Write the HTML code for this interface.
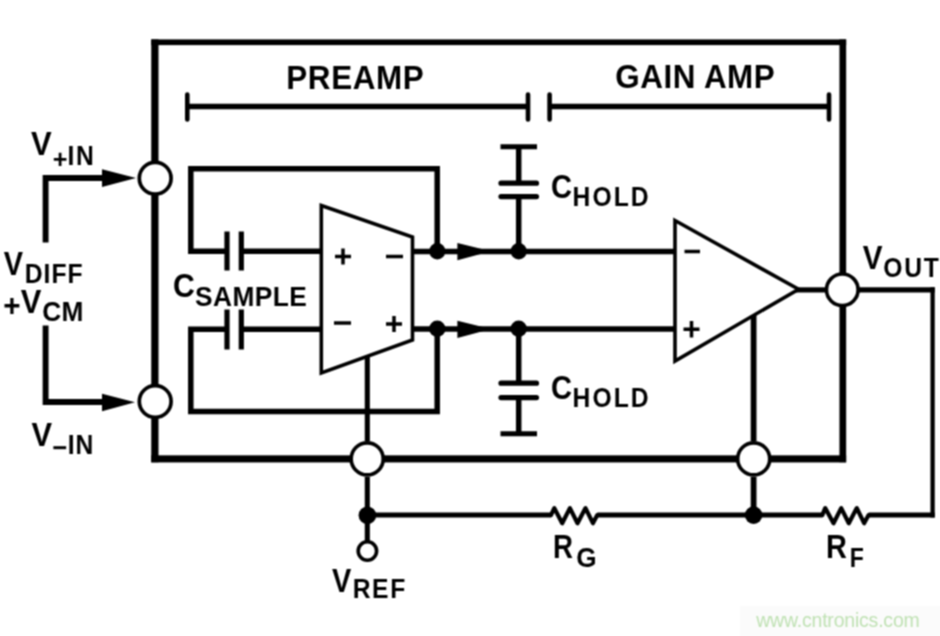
<!DOCTYPE html>
<html><head><meta charset="utf-8">
<style>
html,body{margin:0;padding:0;background:#fff;}
body{width:940px;height:636px;overflow:hidden;position:relative;}
svg{position:absolute;left:0;top:0;display:block;}
text{font-family:"Liberation Sans",sans-serif;font-weight:bold;fill:#000;}
.wm{font-weight:normal;fill:#bfe1b3;}
</style></head>
<body>
<svg width="940" height="636" viewBox="0 0 940 636">
<defs><filter id="bl" color-interpolation-filters="sRGB" filterUnits="userSpaceOnUse" x="0" y="0" width="940" height="636"><feConvolveMatrix order="3" kernelMatrix="1 2 1 2 4 2 1 2 1" divisor="16" edgeMode="duplicate"/></filter></defs>
<g filter="url(#bl)">
<rect x="0" y="0" width="940" height="636" fill="#fff"/>
<rect x="740" y="606" width="200" height="30" fill="#fbfbfb"/>
<g fill="#000">
  <rect x="151.25" y="39.4" width="7.25" height="422.85"/>
  <rect x="151.25" y="39.4" width="694.9" height="5.7"/>
  <rect x="839.44" y="39.4" width="6.7" height="422.85"/>
  <rect x="151.25" y="455.34" width="694.9" height="7.1"/>
</g>
<g fill="none" stroke="#000" stroke-linecap="butt" stroke-linejoin="miter">
  <!-- brackets -->
  <path d="M187.3 106.6 H528 M549.6 106.6 H829" stroke-width="5.5"/>
  <path d="M187.3 94.5 V119.5 M528 94.5 V119.5 M549.6 94.5 V119.5 M829 94.5 V119.5" stroke-width="4.6" stroke-linecap="round"/>

  <!-- inputs -->
  <path d="M45.6 242.5 V178 H104" stroke-width="5.9"/>
  <path d="M45.6 325.5 V402 H104" stroke-width="5.9"/>

  <!-- preamp loops -->
  <path d="M227 251.2 H190.8 V168.7 H437.2 V251.2" stroke-width="5.5"/>
  <path d="M227 329.2 H190.8 V411.4 H437.2 V329" stroke-width="5.5"/>
  <path d="M241.3 251.2 H321.5" stroke-width="5.5"/>
  <path d="M241.3 329.2 H321.5" stroke-width="5.5"/>
  <path d="M227 231.5 V270.5 M241.3 231.5 V270.5 M227 309.5 V349.5 M241.3 309.5 V349.5" stroke-width="5.2"/>

  <!-- preamp -->
  <path d="M321.3 205.5 L412.5 237 V340 L321.3 373 Z" stroke-width="3.6"/>
  <path d="M412.5 251.5 H675" stroke-width="5.5"/>
  <path d="M412.5 329 H675" stroke-width="5.5"/>

  <!-- CHOLD -->
  <path d="M518.7 146.8 V183 M518.7 196.6 V251.2" stroke-width="5.5"/>
  <path d="M500.5 146.8 H537" stroke-width="5"/>
  <path d="M501 183.2 H536.5 M501 196.6 H536.5" stroke-width="5.2" stroke-linecap="round"/>
  <path d="M518.7 329 V383.2 M518.7 397.6 V433.8" stroke-width="5.5"/>
  <path d="M500.5 433.8 H537" stroke-width="5"/>
  <path d="M501 383.2 H536.5 M501 397.6 H536.5" stroke-width="5.2" stroke-linecap="round"/>

  <!-- gain amp -->
  <path d="M675 220.5 L798.6 289.3 L675 361 Z" stroke-width="3.6"/>
  <path d="M796 289.9 H825" stroke-width="5.2"/>
  <path d="M859 289.9 H934.75" stroke-width="5.4"/>
  <path d="M932.6 287.2 V517.5" stroke-width="4.3"/>
  <path d="M934.75 515.1 H868.6" stroke-width="5"/>
  <path d="M868.6 515.1 L864.1 523.2 L856.8 508.1 L848.8 523.2 L841.2 508.1 L833.5 523.2 L825.2 508.1 L822.3 515.1" stroke-width="4.2" stroke-linejoin="round" stroke-linecap="round"/>
  <path d="M822.3 515.1 H597.3" stroke-width="5"/>
  <path d="M597.3 515.1 L592.9 523.2 L585.5 508.1 L577.5 523.2 L569.9 508.1 L562.2 523.2 L554.3 508.1 L551 515.1" stroke-width="4.2" stroke-linejoin="round" stroke-linecap="round"/>
  <path d="M551 515.1 H367.4" stroke-width="5"/>
  <path d="M753.6 315 V441" stroke-width="5.8"/>
  <path d="M753.6 477 V515" stroke-width="5.8"/>
  <path d="M367.3 356 V441" stroke-width="5.1"/>
  <path d="M367.3 477 V541.5" stroke-width="5.1"/>

  <!-- signs -->
  <path d="M335 256.5 H351 M343 248.5 V264.5" stroke-width="3.5"/>
  <path d="M386 256.5 H403" stroke-width="3.5"/>
  <path d="M334 323 H351" stroke-width="3.5"/>
  <path d="M386 324 H402 M394 316 V332" stroke-width="3.5"/>
  <path d="M684.5 251.5 H700" stroke-width="3.5"/>
  <path d="M683.5 329.2 H699.5 M691.5 321 V337.5" stroke-width="3.5"/>

  <!-- circles -->
  <circle cx="155.2" cy="178.2" r="15.9" stroke-width="3.7" fill="#fff"/>
  <circle cx="155.2" cy="401.5" r="15.9" stroke-width="3.7" fill="#fff"/>
  <circle cx="367.2" cy="458.9" r="16" stroke-width="3.6" fill="#fff"/>
  <circle cx="753.7" cy="458.9" r="16" stroke-width="3.6" fill="#fff"/>
  <circle cx="842.3" cy="289.8" r="15.8" stroke-width="3.6" fill="#fff"/>
  <circle cx="367.4" cy="551" r="9.2" stroke-width="3.6" fill="#fff"/>
</g>
<g fill="#000">
  <!-- arrows -->
  <path d="M102 169.3 L136 178 L102 186.9 Z"/>
  <path d="M102 393.8 L135 402.3 L102 411.2 Z"/>
  <path d="M457.4 242.9 L491 251.2 L457.4 260.3 Z"/>
  <path d="M457.4 320.7 L491 329 L457.4 338.1 Z"/>
  <!-- dots -->
  <circle cx="437.3" cy="251.2" r="8.2"/>
  <circle cx="437.3" cy="328.8" r="8.2"/>
  <circle cx="518.7" cy="251.2" r="8.2"/>
  <circle cx="518.7" cy="328.8" r="8.2"/>
  <circle cx="367.4" cy="515.2" r="8.8"/>
  <circle cx="753.6" cy="515.1" r="8.8"/>
</g>
<text id="vin_v" transform="translate(31.02 155.38) scale(0.9573 1)" font-size="32.40">V</text>
<text id="vin_plus" transform="translate(52.66 167.58) scale(0.9766 1)" font-size="25.79">+</text>
<text id="vin_in" transform="translate(67.48 165.00) scale(0.9000 1)" font-size="27.40" textLength="29.18" lengthAdjust="spacing">IN</text>
<text id="vdiff_v" transform="translate(3.83 275.00) scale(0.8922 1)" font-size="32.40">V</text>
<text id="diff" transform="translate(24.74 282.86) scale(0.9000 1)" font-size="27.40" textLength="64.24" lengthAdjust="spacing">DIFF</text>
<text id="vcm_plus" transform="translate(3.33 316.01) scale(0.9300 1)" font-size="31.92">+</text>
<text id="vcm_v" transform="translate(20.76 312.88) scale(0.9547 1)" font-size="32.40">V</text>
<text id="cm" transform="translate(42.17 320.70) scale(0.9600 1)" font-size="27.40" textLength="42.96" lengthAdjust="spacing">CM</text>
<text id="vmin_v" transform="translate(31.42 446.38) scale(0.9517 1)" font-size="32.40">V</text>
<text id="vmin_minus" transform="translate(52.36 457.26) scale(0.9315 1)" font-size="27.40">−</text>
<text id="vmin_in" transform="translate(67.63 454.40) scale(0.9000 1)" font-size="27.40" textLength="28.48" lengthAdjust="spacing">IN</text>
<text id="preamp" transform="translate(286.35 88.51) scale(0.9700 1)" font-size="32.40" textLength="141.53" lengthAdjust="spacing">PREAMP</text>
<text id="gainamp" transform="translate(615.24 88.00) scale(0.9700 1)" font-size="32.40" textLength="164.44" lengthAdjust="spacing">GAIN AMP</text>
<text id="ch1_c" transform="translate(551.01 197.83) scale(0.8986 1)" font-size="32.40">C</text>
<text id="hold1" transform="translate(572.62 205.88) scale(0.9000 1)" font-size="27.40" textLength="84.33" lengthAdjust="spacing">HOLD</text>
<text id="ch2_c" transform="translate(551.01 398.89) scale(0.8986 1)" font-size="32.40">C</text>
<text id="hold2" transform="translate(572.62 407.00) scale(0.9000 1)" font-size="27.40" textLength="84.33" lengthAdjust="spacing">HOLD</text>
<text id="cs_c" transform="translate(172.88 297.29) scale(0.9336 1)" font-size="32.40">C</text>
<text id="sample" transform="translate(195.11 306.00) scale(0.9600 1)" font-size="27.40" textLength="116.28" lengthAdjust="spacing">SAMPLE</text>
<text id="vout_v" transform="translate(862.68 269.10) scale(0.9150 1)" font-size="32.40">V</text>
<text id="out" transform="translate(883.21 276.50) scale(0.9000 1)" font-size="27.40" textLength="61.91" lengthAdjust="spacing">OUT</text>
<text id="vref_v" transform="translate(331.98 591.61) scale(0.8923 1)" font-size="32.40">V</text>
<text id="ref" transform="translate(352.70 598.37) scale(0.9000 1)" font-size="27.40" textLength="58.33" lengthAdjust="spacing">REF</text>
<text id="rg_r" transform="translate(552.97 557.55) scale(0.8540 1)" font-size="32.40">R</text>
<text id="g" transform="translate(576.23 567.12) scale(0.9548 1)" font-size="27.40">G</text>
<text id="rf_r" transform="translate(826.11 557.55) scale(0.8917 1)" font-size="32.40">R</text>
<text id="f" transform="translate(849.73 566.61) scale(0.8403 1)" font-size="27.40">F</text>
<text class="wm" transform="translate(756.2 627) scale(0.965 1)" font-size="20.2" textLength="169.5" lengthAdjust="spacing">www.cntronics.com</text>
</g>
</svg>
</body></html>
